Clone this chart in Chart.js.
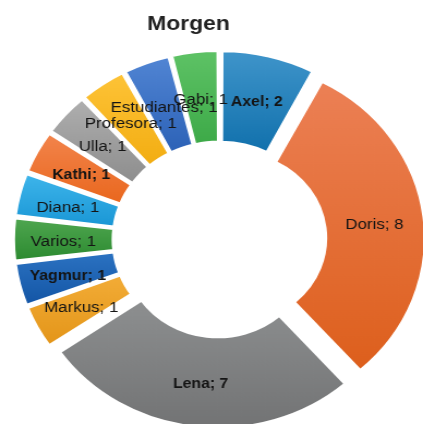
<!DOCTYPE html>
<html>
<head>
<meta charset="utf-8">
<title>Morgen</title>
<script src="https://cdn.jsdelivr.net/npm/chart.js@4.4.1/dist/chart.umd.min.js"></script>
<style>
  html, body { margin: 0; padding: 0; background: #fff; }
  #wrap { width: 423px; height: 424px; overflow: hidden; }
</style>
</head>
<body>
<div id="wrap">
  <!-- the drawing is a little wider than tall, so the canvas is stretched by CSS -->
  <canvas id="morgenChart" width="388" height="424" style="width:423px;height:424px"></canvas>
</div>
<script>
// Datos del gráfico
const names = ["Axel", "Doris", "Lena", "Markus", "Yagmur", "Varios", "Diana", "Kathi", "Ulla", "Profesora", "Estudiantes", "Gabi"];
const values = [2, 8, 7, 1, 1, 1, 1, 1, 1, 1, 1, 1];
const boldNames = ["Axel", "Lena", "Kathi", "Yagmur"];

// Colores de cada porción (arriba / abajo del degradado)
const topColors = ["#3d93c9", "#ec8055", "#8d8f90", "#f3ad38", "#2c73c2", "#4fa650", "#3db4ea", "#f2834a", "#adadad", "#fdc235", "#4f83d2", "#5cc164"];
const bottomColors = ["#0f6fab", "#dd5f1c", "#727374", "#e4961a", "#1456a6", "#2c8a30", "#1996d5", "#e9661c", "#8c8c8c", "#f2ac10", "#2a60b5", "#3ba846"];

// Separación de todas las porciones hacia fuera (px)
const EXPLODE = 13;
const total = values.reduce((a, b) => a + b, 0);

/**Ángulo de cada porción, igual que lo calcula Chart.js*/
function sliceAngles(i) {
  const before = values.slice(0, i).reduce((a, b) => a + b, 0);
  const a0 = -Math.PI / 2 + (before / total) * 2 * Math.PI;
  return [a0, a0 + (values[i] / total) * 2 * Math.PI];
}

/**Degradado vertical dentro de cada porción*/
function sliceFill(context) {
  const { chart, dataIndex: i } = context;
  const area = chart.chartArea;
  const ctrl = chart.getDatasetMeta(0).controller;
  if (!area || !ctrl.outerRadius) return topColors[i];
  const [a0, a1] = sliceAngles(i);
  const cy = (area.top + area.bottom) / 2;
  let yMin = Infinity;
  let yMax = -Infinity;
  for (let s = 0; s <= 24; s++) {
    const a = a0 + ((a1 - a0) * s) / 24;
    [ctrl.innerRadius, ctrl.outerRadius].forEach((r) => {
      const y = cy + Math.sin(a) * r;
      yMin = Math.min(yMin, y);
      yMax = Math.max(yMax, y);
    });
  }
  const g = chart.ctx.createLinearGradient(0, yMin, 0, yMax);
  g.addColorStop(0, topColors[i]);
  g.addColorStop(1, bottomColors[i]);
  return g;
}

// Chart.js mueve el arco offset/4 y además agranda los radios de las porciones
// estrechas; se compensa para que todas salgan la misma distancia
function sliceOffset(context) {
  const [a0, a1] = sliceAngles(context.dataIndex);
  const fix = 1 - Math.sin(Math.min(Math.PI, a1 - a0));
  return (4 * EXPLODE) / (1 + fix);
}

// Etiquetas "Nombre; valor" en el centro de cada porción
const sliceLabels = {
  id: "sliceLabels",
  afterDatasetsDraw(chart) {
    const { ctx } = chart;
    const arcs = chart.getDatasetMeta(0).data;
    ctx.save();
    ctx.textAlign = "center";
    ctx.textBaseline = "middle";
    ctx.fillStyle = "#141414";
    arcs.forEach((arc, i) => {
      const mid = (arc.startAngle + arc.endAngle) / 2;
      const r = (arc.innerRadius + arc.outerRadius) / 2 + EXPLODE;
      const bold = boldNames.includes(names[i]);
      ctx.font = (bold ? "bold 14.5px" : "15.5px") + ' "Liberation Sans", Arial, sans-serif';
      // +2: el texto queda un poco por debajo del centro geométrico
      ctx.fillText(`${names[i]}; ${values[i]}`, arc.x + Math.cos(mid) * r, arc.y + Math.sin(mid) * r + 2);
    });
    ctx.restore();
  },
};

const ctx = document.getElementById("morgenChart").getContext("2d");
new Chart(ctx, {
  type: "doughnut",
  data: {
    labels: names,
    datasets: [
      {
        data: values,
        backgroundColor: sliceFill,
        borderColor: "#ffffff",
        borderWidth: 2,
        offset: sliceOffset,
        hoverOffset: 0,
        clip: false,
      },
    ],
  },
  options: {
    responsive: false,
    animation: false,
    radius: 175.5,
    cutout: "48.4%",
    layout: { padding: { left: 135, right: 120.4, top: 0, bottom: 0 } },
    plugins: {
      legend: { display: false },
      tooltip: { enabled: false },
      title: {
        display: true,
        text: "Morgen",
        align: "start",
        color: "#222",
        font: { family: '"Liberation Sans", Arial, sans-serif', size: 21, weight: "bold" },
        padding: { top: 12, bottom: 17.8 },
      },
    },
  },
  plugins: [sliceLabels],
});
</script>
</body>
</html>
